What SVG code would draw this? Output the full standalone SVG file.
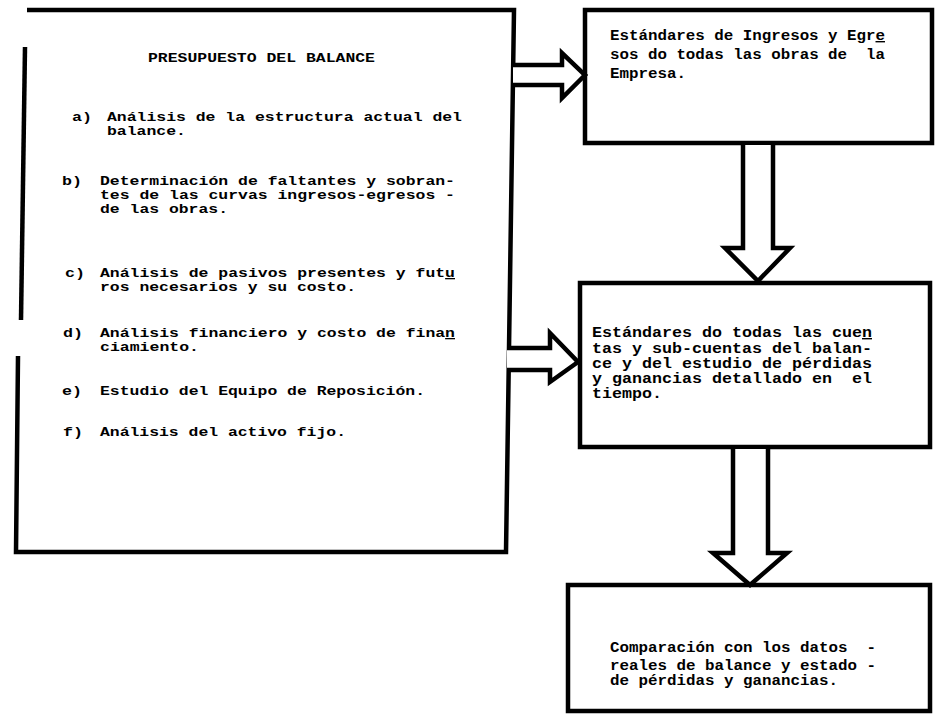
<svg xmlns="http://www.w3.org/2000/svg" width="941" height="714" viewBox="0 0 941 714">
<style>
.box{fill:none;stroke:#000;stroke-width:4.5;stroke-linejoin:miter}
.arr{fill:#fff;stroke:#000;stroke-width:4.5;stroke-linejoin:miter}
text{font-family:"Liberation Mono","DejaVu Sans Mono",monospace;font-weight:bold;fill:#000}
.l{font-size:13px}
.r{font-size:14px}
.u{text-decoration:underline}
</style>
<rect width="941" height="714" fill="#fff"/>
<g id="node-presupuesto">
<path class="box" d="M27,10 L514,10 L506,552 L16,552 L18,356"/>
<path class="box" d="M25,47 L21,320"/>
<text class="l" x="148" y="62" textLength="227" lengthAdjust="spacingAndGlyphs">PRESUPUESTO DEL BALANCE</text>
<text class="l" x="72" y="121" textLength="20" lengthAdjust="spacingAndGlyphs">a)</text>
<text class="l" x="107" y="121" textLength="355" lengthAdjust="spacingAndGlyphs">Análisis de la estructura actual del</text>
<text class="l" x="107" y="135" textLength="79" lengthAdjust="spacingAndGlyphs">balance.</text>
<text class="l" x="62" y="185" textLength="20" lengthAdjust="spacingAndGlyphs">b)</text>
<text class="l" x="100" y="185" textLength="355" lengthAdjust="spacingAndGlyphs">Determinación de faltantes y sobran-</text>
<text class="l" x="100" y="199" textLength="355" lengthAdjust="spacingAndGlyphs">tes de las curvas ingresos-egresos -</text>
<text class="l" x="100" y="213" textLength="128" lengthAdjust="spacingAndGlyphs">de las obras.</text>
<text class="l" x="65" y="277" textLength="20" lengthAdjust="spacingAndGlyphs">c)</text>
<text class="l" x="100" y="277" textLength="355" lengthAdjust="spacingAndGlyphs">Análisis de pasivos presentes y fut<tspan class="u">u</tspan></text>
<text class="l" x="100" y="291" textLength="256" lengthAdjust="spacingAndGlyphs">ros necesarios y su costo.</text>
<text class="l" x="63" y="337" textLength="20" lengthAdjust="spacingAndGlyphs">d)</text>
<text class="l" x="100" y="337" textLength="355" lengthAdjust="spacingAndGlyphs">Análisis financiero y costo de fina<tspan class="u">n</tspan></text>
<text class="l" x="100" y="351" textLength="99" lengthAdjust="spacingAndGlyphs">ciamiento.</text>
<text class="l" x="62" y="395" textLength="20" lengthAdjust="spacingAndGlyphs">e)</text>
<text class="l" x="100" y="395" textLength="325" lengthAdjust="spacingAndGlyphs">Estudio del Equipo de Reposición.</text>
<text class="l" x="63" y="436" textLength="20" lengthAdjust="spacingAndGlyphs">f)</text>
<text class="l" x="100" y="436" textLength="246" lengthAdjust="spacingAndGlyphs">Análisis del activo fijo.</text>
</g>
<g id="node-estandares-ingresos">
<rect class="box" x="585" y="10" width="347" height="133"/>
<text class="r" x="610" y="40" textLength="275" lengthAdjust="spacingAndGlyphs">Estándares de Ingresos y Egr<tspan class="u">e</tspan></text>
<text class="r" x="610" y="59" textLength="275" lengthAdjust="spacingAndGlyphs" xml:space="preserve">sos do todas las obras de  la</text>
<text class="r" x="610" y="78" textLength="76" lengthAdjust="spacingAndGlyphs">Empresa.</text>
</g>
<g id="node-estandares-cuentas">
<rect class="box" x="580" y="283" width="350" height="164"/>
<text class="r" x="592" y="337" textLength="280" lengthAdjust="spacingAndGlyphs">Estándares do todas las cue<tspan class="u">n</tspan></text>
<text class="r" x="592" y="353" textLength="280" lengthAdjust="spacingAndGlyphs">tas y sub-cuentas del balan-</text>
<text class="r" x="592" y="368" textLength="280" lengthAdjust="spacingAndGlyphs">ce y del estudio de pérdidas</text>
<text class="r" x="592" y="383" textLength="280" lengthAdjust="spacingAndGlyphs" xml:space="preserve">y ganancias detallado en  el</text>
<text class="r" x="592" y="398" textLength="70" lengthAdjust="spacingAndGlyphs">tiempo.</text>
</g>
<g id="node-comparacion">
<rect class="box" x="568" y="585" width="362" height="126"/>
<text class="r" x="610" y="652" textLength="266" lengthAdjust="spacingAndGlyphs" xml:space="preserve">Comparación con los datos  -</text>
<text class="r" x="610" y="670" textLength="266" lengthAdjust="spacingAndGlyphs">reales de balance y estado -</text>
<text class="r" x="610" y="685" textLength="228" lengthAdjust="spacingAndGlyphs">de pérdidas y ganancias.</text>
</g>
<g id="connectors">
<path class="arr" d="M513,65 H562 V53 L585,75 L562,98 V85 H513"/>
<path class="arr" d="M507,348 H550 V333 L578,362 L550,382 V370 H507"/>
<path class="arr" d="M743,145 V248 H725 L758,281 L790,248 H773 V145"/>
<path class="arr" d="M733,449 V553 H713 L750,585 L787,553 H768 V449"/>
</g>
</svg>
